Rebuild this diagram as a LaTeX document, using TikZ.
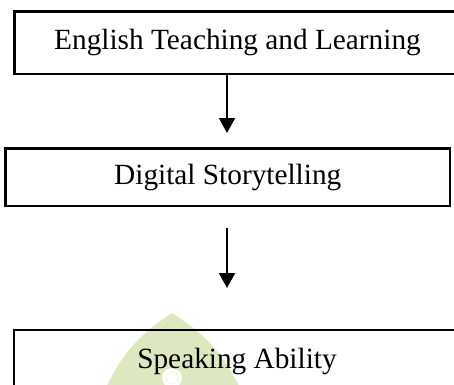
\documentclass[tikz,border=0pt]{standalone}
\usepackage{fontspec}
\setmainfont{Liberation Serif}
\usetikzlibrary{positioning,arrows.meta}
\definecolor{wmgreen}{RGB}{221,232,192}
\tikzset{
  box/.style={draw, line width=2.2pt, inner sep=0pt, font=\fontsize{29.3}{34}\selectfont},
  arr/.style={line width=2pt, -{Triangle[width=16pt,length=15pt]}}
}
\begin{document}
\begin{tikzpicture}[x=1pt,y=1pt]
 \useasboundingbox (0,0) rectangle (454,-384);
 \clip (0,0) rectangle (454,-384);

 %logo behind the last box
 \fill[wmgreen] (172,-313) to[bend right=16] (104,-392) -- (242,-392) to[bend right=16] (172,-313);
 \fill[white] (172,-378) circle (10);
 \draw[wmgreen!50, line width=0.6pt] (172,-378) circle (6);

 %l1
 \node[box, minimum width=446, minimum height=62.5] (l1) at (237.5,-42.75) {English Teaching and Learning};
 %l2
 \node[box, minimum width=444.5, minimum height=57.5] (l2) at (227.75,-177.25) {Digital Storytelling};
 %l3
 \node[box, minimum width=446, minimum height=62.5] (l3) at (237,-361.25) {Speaking Ability};

 %arrows
 \coordinate (t1) at (227,-133);
 \coordinate (s2) at (227,-228);
 \coordinate (t2) at (227,-288);
 \draw[arr] (t1 |- l1.south) -- (t1);
 \draw[arr] (s2) -- (t2);

\end{tikzpicture}
\end{document}
